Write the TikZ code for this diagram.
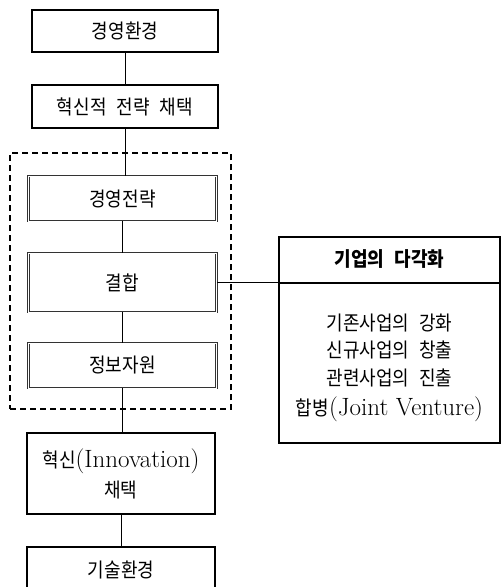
\documentclass[tikz,border=0pt]{standalone}
\usepackage{fontspec}
\newfontfamily\kr[FakeStretch=0.9,WordSpace=2.5]{Noto Sans CJK KR}
\newfontfamily\lat{Latin Modern Roman}
\newcommand\lt[1]{{\lat\fontsize{25}{28}\selectfont #1}}
\usetikzlibrary{calc}
\begin{document}
\begin{tikzpicture}[
  txt/.style={font=\kr\fontsize{20}{24}\selectfont, inner sep=0pt},
  outerbox/.style={txt, draw, line width=1.6pt, align=center},
  innerbox/.style={txt, draw=black!80, double=white, double distance=0.9pt, line width=0.6pt},
  grpframe/.style={draw, dashed, dash pattern=on 6pt off 4pt, line width=1.2pt},
  conn/.style={line width=0.9pt},
  divbox/.style={draw, line width=1.6pt},
]
\useasboundingbox (0pt,0pt) rectangle (502pt,-587pt);
\clip (0pt,0pt) rectangle (502pt,-587pt);
\fill[white] (0pt,0pt) rectangle (502pt,-587pt);

% dashed group frame
\node[grpframe, minimum width=221pt, minimum height=256pt, inner sep=0pt] (grp) at (120.5pt,-281pt) {};

\node[outerbox, minimum width=186pt, minimum height=42pt] (b1) at (125pt,-31pt) {경영환경};
\node[outerbox, minimum width=186pt, minimum height=43pt] (b2) at (125pt,-106.5pt) {혁신적 전략 채택};
\node[innerbox, minimum width=188pt, minimum height=45pt] (b3) at (122.5pt,-198.5pt) {경영전략};
\node[innerbox, minimum width=188pt, minimum height=59pt] (b4) at (122.5pt,-282.5pt) {결합};
\node[innerbox, minimum width=188pt, minimum height=45pt] (b5) at (122.5pt,-365.5pt) {정보자원};
\node[outerbox, minimum width=188pt, minimum height=81pt] (b6) at (121pt,-473.5pt)
  {혁신\lt{(Innovation)}\\[6pt]채택};
\node[outerbox, minimum width=188pt, minimum height=46pt] (b7) at (121pt,-570pt) {기술환경};

% right box
\node[divbox, minimum width=221pt, minimum height=206pt, inner sep=0pt] (div) at (389.5pt,-340pt) {};
\node[txt, font=\kr\bfseries\fontsize{20}{24}\selectfont] (dt) at (389.5pt,-259pt) {기업의 다각화};
\node[txt] (d1) at (389.5pt,-323pt) {기존사업의 강화};
\node[txt] (d2) at (389.5pt,-350pt) {신규사업의 창출};
\node[txt] (d3) at (389.5pt,-378pt) {관련사업의 진출};
\node[txt] (d4) at (389.5pt,-409pt) {합병\lt{(Joint Venture)}};

% connectors
\draw[conn] (b1.south) -- (b1.south |- b2.north);
\draw[conn] (b2.south) -- (b2.south |- b3.north);
\draw[conn] (b3.south) -- (b3.south |- b4.north);
\draw[conn] (b4.south) -- (b4.south |- b5.north);
\draw[conn] (b5.south) -- (b5.south |- b6.north);
\draw[conn] (b6.south) -- (b6.south |- b7.north);
\coordinate (sepL) at (b4.east -| div.west);
\coordinate (sepR) at (b4.east -| div.east);
\draw[conn] (b4.east) -- (sepL);
\draw[line width=2pt] (sepL) -- (sepR);
\end{tikzpicture}
\end{document}
